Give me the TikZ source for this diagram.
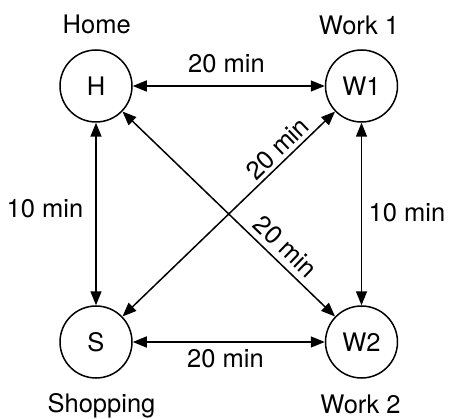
\documentclass[tikz,border=0pt]{standalone}
\usepackage{fontspec}
\setmainfont{TeX Gyre Heros}
\usetikzlibrary{arrows.meta}
\begin{document}
\begin{tikzpicture}[x=1pt,y=-1pt,
  every node/.style={font=\fontsize{25.5}{29}\selectfont, inner sep=0pt},
  place/.style={circle, draw, line width=1.5pt, minimum size=72pt},
  lbl/.style={anchor=base},
  conn/.style={line width=1.5pt, {Triangle[length=14pt,width=11pt]}-{Triangle[length=14pt,width=11pt]}}
]
\useasboundingbox (0,0) rectangle (449,419);
\node[place] (H)  at (96,86)    {H};
\node[place] (W1) at (361.5,86) {W1};
\node[place] (S)  at (96,342)   {S};
\node[place] (W2) at (361.5,342){W2};

\node[lbl] (tH)  at (96.7,34)  {Home};
\node[lbl] (tW1) at (359,35)   {Work 1};
\node[lbl] (tS)  at (101.5,412){Shopping};
\node[lbl] (tW2) at (360.5,413){Work 2};

\draw[conn] (H) -- (W1);
\draw[conn] (S) -- (W2);
\draw[conn] (H) -- (S);
\draw[conn] (W1) -- (W2);
\draw[conn] (S) -- (W1);
\draw[conn] (H) -- (W2);

\node[lbl] (l1) at (226.5,73)  {20 min};
\node[lbl] (l2) at (225.5,367) {20 min};
\node[lbl] (l3) at (45,218)    {10 min};
\node[lbl] (l4) at (407,222)   {10 min};
\node[rotate=44]  (l5) at (277.5,148.5) {20 min};
\node[rotate=-44] (l6) at (285.5,246.5) {20 min};
\end{tikzpicture}
\end{document}
